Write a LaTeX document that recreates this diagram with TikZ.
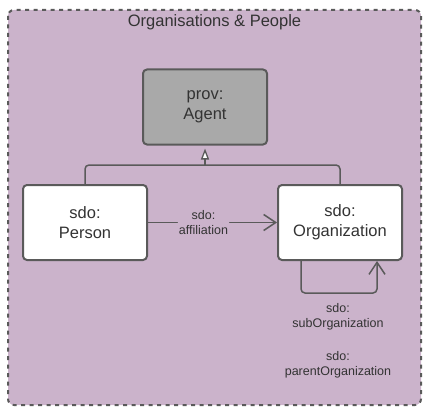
\documentclass[tikz,border=0pt]{standalone}
\usepackage{fontspec}
\setmainfont{Liberation Sans}
\usetikzlibrary{arrows.meta}
\definecolor{bgpurple}{RGB}{203,179,203}
\definecolor{linegray}{RGB}{90,90,90}
\definecolor{txtgray}{RGB}{51,51,51}
\definecolor{agentgray}{RGB}{169,169,169}
\tikzset{
  classbox/.style={draw=linegray, line width=2pt, rounded corners=4pt, fill=white,
    minimum width=124pt, minimum height=75pt, align=center, text=txtgray,
    font=\fontsize{16.5}{19.8}\selectfont, inner sep=0pt},
  conn/.style={draw=linegray, line width=1.5pt, rounded corners=4pt},
  lbl/.style={text=txtgray, align=center, font=\fontsize{12.5}{15.5}\selectfont, inner sep=1pt},
  openarrow/.style={-{Straight Barb[length=12pt,width=16pt,line width=1.5pt]}},
  genarrow/.style={-{Triangle[open,fill=white,length=11pt,width=8pt,line width=1.3pt]}}
}
\begin{document}
\begin{tikzpicture}[x=1pt,y=-1pt]
\useasboundingbox (0,0) rectangle (430,417);
\draw[draw=linegray, fill=bgpurple, line width=2pt, dash pattern=on 4pt off 4.5pt, rounded corners=6pt] (8,10) rectangle (421,405);
\node[text=txtgray, font=\fontsize{16.5}{19.8}\selectfont] (title) at (214.5,22) {Organisations \& People};
\node[classbox, fill=agentgray] (agent) at (205,107) {prov:\\Agent};
\node[classbox] (person) at (85,222.5) {sdo:\\Person};
\node[classbox] (org) at (340,222.5) {sdo:\\Organization};
\coordinate (junc) at (205,165);
\draw[conn] (person.north) |- (junc) -| (org.north);
\draw[conn, genarrow, shorten >=3pt] (junc) -- (agent.south);
\draw[conn, openarrow] (person.east) -- node[lbl, fill=bgpurple, pos=0.43] (afflbl) {sdo:\\affiliation} (org.west);
\coordinate (loopA) at ([xshift=-39pt]org.south);
\coordinate (loopB) at ([xshift=37pt]org.south);
\draw[conn, openarrow] (loopA) -- ++(0,32) -| (loopB);
\node[lbl] (sublbl) at (338,317) {sdo:\\subOrganization};
\node[lbl] (parlbl) at (338,365) {sdo:\\parentOrganization};
\end{tikzpicture}
\end{document}
